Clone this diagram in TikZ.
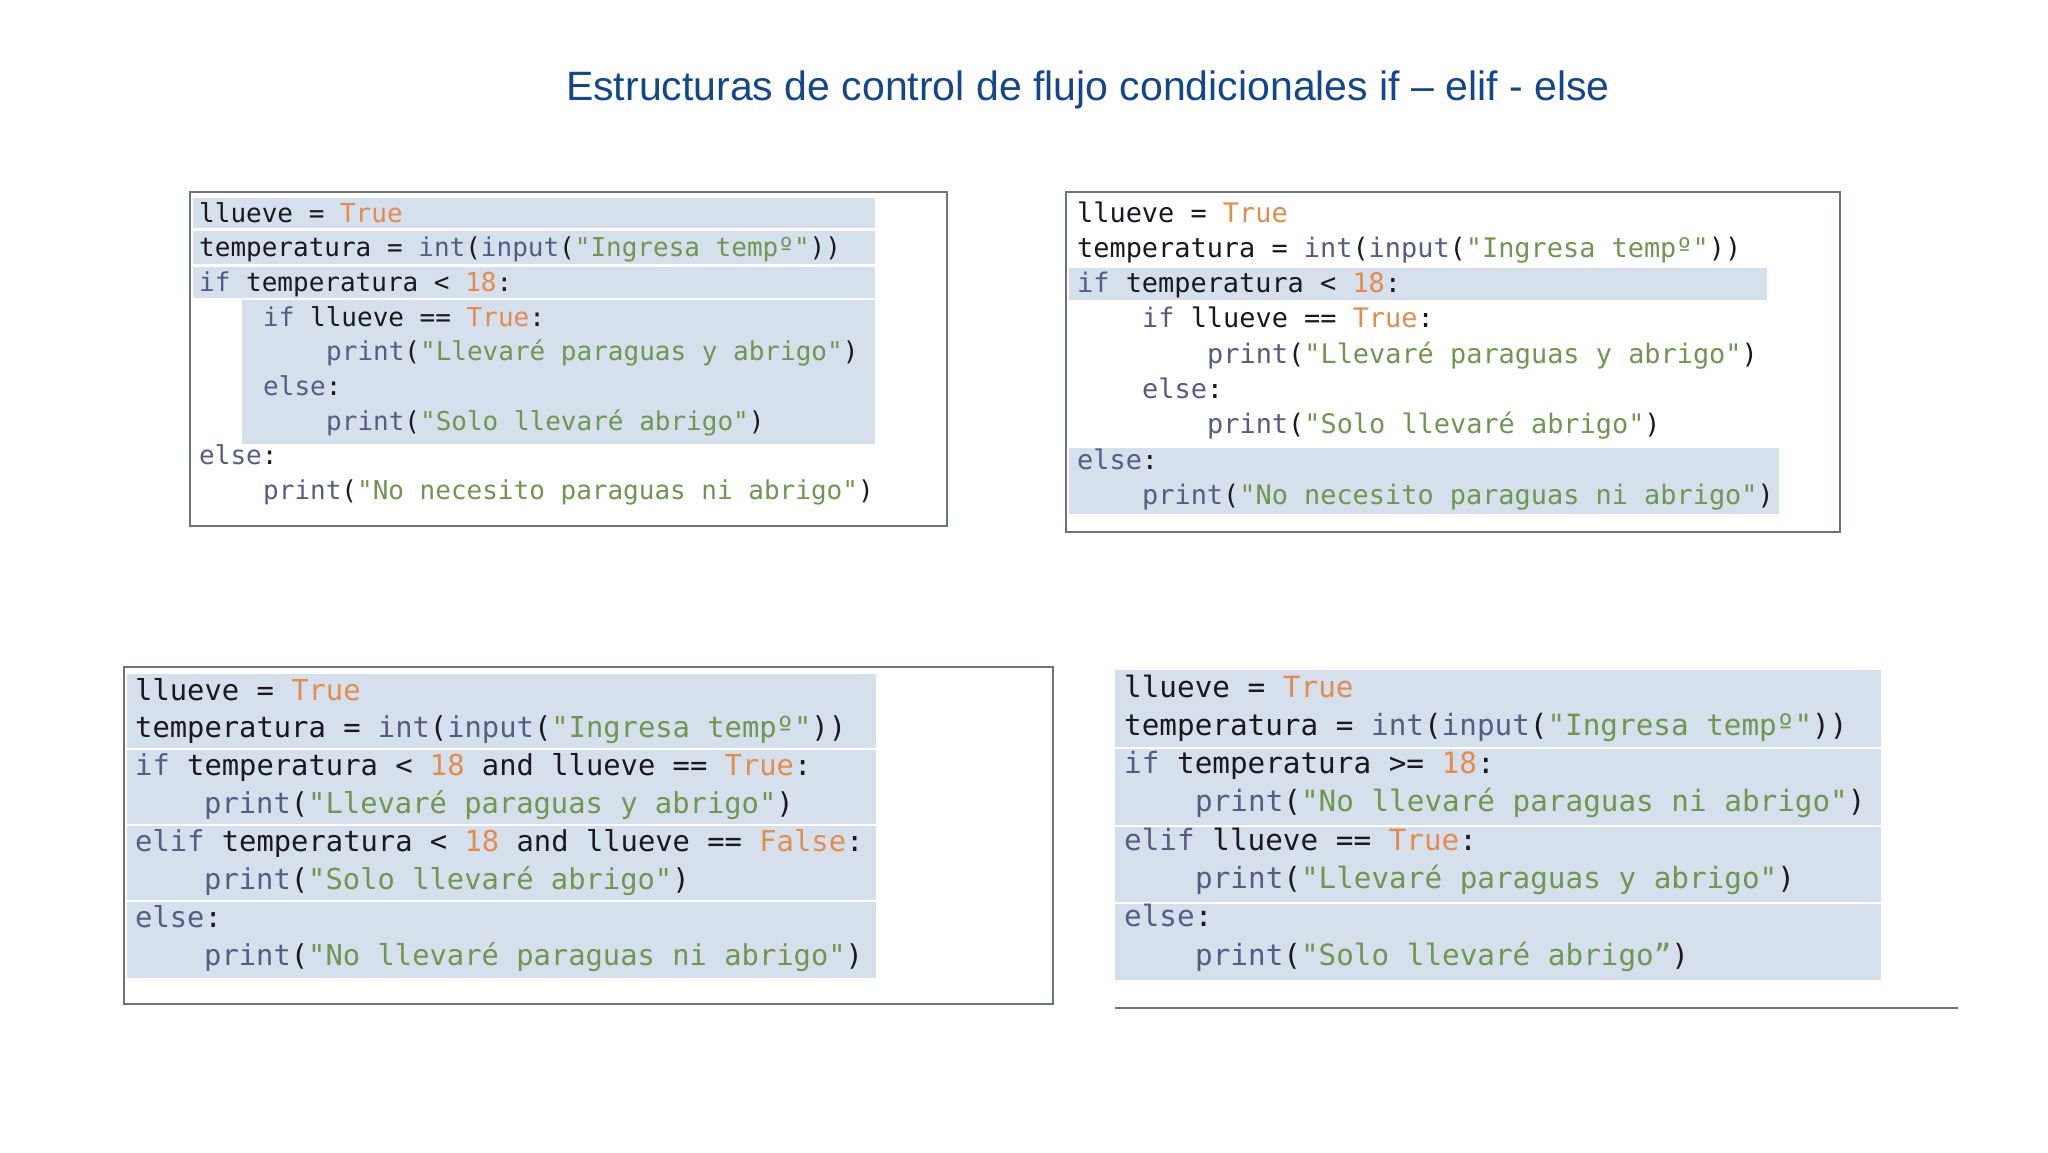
\documentclass[tikz,border=0pt]{standalone}
\usepackage{fontspec}
\setmainfont{Liberation Sans}
\newfontfamily\codefont{DejaVu Sans Mono}
\definecolor{titleblue}{RGB}{20,70,140}
\definecolor{hl}{RGB}{214,224,236}
\definecolor{kwc}{RGB}{88,92,132}
\definecolor{stc}{RGB}{112,150,82}
\definecolor{nmc}{RGB}{226,140,80}
\definecolor{txc}{RGB}{25,25,30}
\definecolor{frame}{RGB}{110,115,120}
\newcommand{\kw}[1]{\textcolor{kwc}{#1}}
\newcommand{\st}[1]{\textcolor{stc}{#1}}
\newcommand{\nm}[1]{\textcolor{nmc}{#1}}
\tikzset{
 codeA/.style={anchor=base west,inner sep=0pt,text=txc,font=\codefont\fontsize{26}{30}\selectfont},
 codeB/.style={anchor=base west,inner sep=0pt,text=txc,font=\codefont\fontsize{26.9}{31}\selectfont},
 codeC/.style={anchor=base west,inner sep=0pt,text=txc,font=\codefont\fontsize{28.8}{33}\selectfont},
 codeD/.style={anchor=base west,inner sep=0pt,text=txc,font=\codefont\fontsize{29.3}{33}\selectfont},
 boxframe/.style={draw=frame,line width=1.3pt},
 sep/.style={draw=white,line width=1.5pt}
}
\begin{document}
\begin{tikzpicture}[x=1pt,y=-1pt]
\useasboundingbox[fill=white] (0,0) rectangle (2048,1152);
\node[font=\fontsize{41}{48}\selectfont,text=titleblue] (title) at (1088,90) {Estructuras de control de flujo condicionales if – elif - else};

% Box 1
\fill[hl] (193,198) rectangle (875,228);
\fill[hl] (193,231) rectangle (875,264);
\fill[hl] (193,267) rectangle (875,298);
\fill[hl] (242,300) rectangle (875,444);
\draw[boxframe] (190,192) rectangle (947,526);
\node[codeA] (a1) at (199,222) {llueve = \nm{True}};
\node[codeA] (a2) at (199,256.7) {temperatura = \kw{int}(\kw{input}(\st{"Ingresa tempº"}))};
\node[codeA] (a3) at (199,291.4) {\kw{if} temperatura < \nm{18}:};
\node[codeA] (a4) at (263,326.1) {\kw{if} llueve == \nm{True}:};
\node[codeA] (a5) at (326,360.8) {\kw{print}(\st{"Llevaré paraguas y abrigo"})};
\node[codeA] (a6) at (263,395.5) {\kw{else}:};
\node[codeA] (a7) at (326,430.2) {\kw{print}(\st{"Solo llevaré abrigo"})};
\node[codeA] (a8) at (199,464.9) {\kw{else}:};
\node[codeA] (a9) at (263,499.6) {\kw{print}(\st{"No necesito paraguas ni abrigo"})};

% Box 2
\fill[hl] (1069,268) rectangle (1767,300);
\fill[hl] (1069,448) rectangle (1779,514);
\draw[boxframe] (1066,192) rectangle (1840,532);
\node[codeB] (b1) at (1077,222) {llueve = \nm{True}};
\node[codeB] (b2) at (1077,257.3) {temperatura = \kw{int}(\kw{input}(\st{"Ingresa tempº"}))};
\node[codeB] (b3) at (1077,292.6) {\kw{if} temperatura < \nm{18}:};
\node[codeB] (b4) at (1142,327.9) {\kw{if} llueve == \nm{True}:};
\node[codeB] (b5) at (1207,363.2) {\kw{print}(\st{"Llevaré paraguas y abrigo"})};
\node[codeB] (b6) at (1142,398.5) {\kw{else}:};
\node[codeB] (b7) at (1207,433.8) {\kw{print}(\st{"Solo llevaré abrigo"})};
\node[codeB] (b8) at (1077,469.1) {\kw{else}:};
\node[codeB] (b9) at (1142,504.4) {\kw{print}(\st{"No necesito paraguas ni abrigo"})};

% Box 3
\fill[hl] (127,674) rectangle (876,978);
\draw[sep] (127,749) -- (876,749);
\draw[sep] (127,825) -- (876,825);
\draw[sep] (127,901) -- (876,901);
\draw[boxframe] (124,667) rectangle (1053,1004);
\node[codeC] (c1) at (135,700) {llueve = \nm{True}};
\node[codeC] (c2) at (135,737.9) {temperatura = \kw{int}(\kw{input}(\st{"Ingresa tempº"}))};
\node[codeC] (c3) at (135,775.8) {\kw{if} temperatura < \nm{18} and llueve == \nm{True}:};
\node[codeC] (c4) at (204,813.7) {\kw{print}(\st{"Llevaré paraguas y abrigo"})};
\node[codeC] (c5) at (135,851.6) {\kw{elif} temperatura < \nm{18} and llueve == \nm{False}:};
\node[codeC] (c6) at (204,889.5) {\kw{print}(\st{"Solo llevaré abrigo"})};
\node[codeC] (c7) at (135,927.4) {\kw{else}:};
\node[codeC] (c8) at (204,965.3) {\kw{print}(\st{"No llevaré paraguas ni abrigo"})};

% Box 4
\fill[hl] (1115,670) rectangle (1881,980);
\draw[sep] (1115,748) -- (1881,748);
\draw[sep] (1115,826) -- (1881,826);
\draw[sep] (1115,903) -- (1881,903);
\coordinate (d0a) at (1115,1008);
\coordinate (d0b) at (1958,1008);
\draw[draw=frame,line width=1.3pt] (d0a) -- (d0b);
\node[codeD] (d1) at (1124,697) {llueve = \nm{True}};
\node[codeD] (d2) at (1124,735.3) {temperatura = \kw{int}(\kw{input}(\st{"Ingresa tempº"}))};
\node[codeD] (d3) at (1124,773.6) {\kw{if} temperatura >= \nm{18}:};
\node[codeD] (d4) at (1195,811.9) {\kw{print}(\st{"No llevaré paraguas ni abrigo"})};
\node[codeD] (d5) at (1124,850.2) {\kw{elif} llueve == \nm{True}:};
\node[codeD] (d6) at (1195,888.5) {\kw{print}(\st{"Llevaré paraguas y abrigo"})};
\node[codeD] (d7) at (1124,926.8) {\kw{else}:};
\node[codeD] (d8) at (1195,965.1) {\kw{print}(\st{"Solo llevaré abrigo”})};
\end{tikzpicture}
\end{document}
